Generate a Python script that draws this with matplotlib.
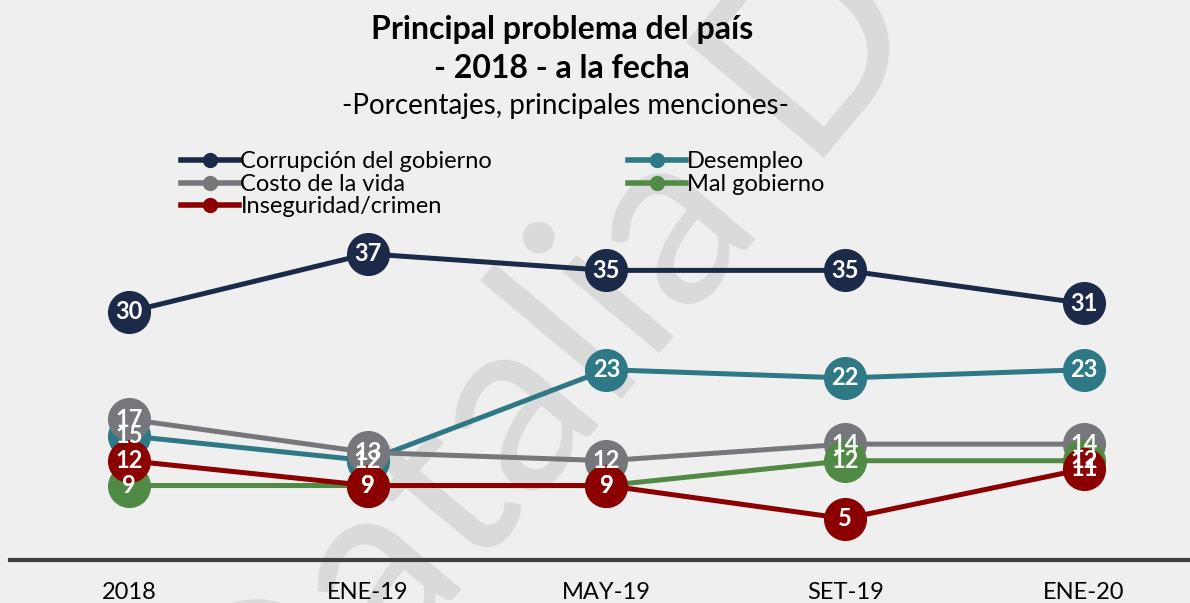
import matplotlib.pyplot as plt
from matplotlib.lines import Line2D

plt.rcParams['font.family'] = ['Lato', 'DejaVu Sans']

# Datos
periodos = ['2018', 'ENE-19', 'MAY-19', 'SET-19', 'ENE-20']
corrupcion = [30, 37, 35, 35, 31]
desempleo = [15, 12, 23, 22, 23]
costo_vida = [17, 13, 12, 14, 14]
mal_gobierno = [9, 9, 9, 12, 12]
inseguridad = [12, 9, 9, 5, 11]

series = [
    ('Corrupción del gobierno', corrupcion, '#1c2a4a'),
    ('Desempleo', desempleo, '#2e7985'),
    ('Costo de la vida', costo_vida, '#76777b'),
    ('Mal gobierno', mal_gobierno, '#518a44'),
    ('Inseguridad/crimen', inseguridad, '#8b0000'),
]

bg = '#efefef'
fig = plt.figure(figsize=(11.9, 6.03), dpi=100, facecolor=bg)

# marca de agua (detras de todo)
wm = dict(fontsize=180, color='#dadada', rotation=50, rotation_mode='anchor',
          va='baseline', zorder=-5)
fig.text(759 / 1190, 1 - 209 / 603, 'Datalia', ha='right', **wm)
fig.text(801 / 1190, 1 - 158 / 603, 'D', ha='left', **wm)

ax = fig.add_axes([10 / 1190, 1 - 560 / 603, 1 - 10 / 1190, (560 - 229) / 603])
ax.set_facecolor('none')
x = list(range(len(periodos)))

handles = {}
for i, (nombre, vals, color) in enumerate(series):
    ax.plot(x, vals, color=color, lw=3.6, marker='o', ms=30, clip_on=False, zorder=2 + i)
    handles[nombre] = Line2D([], [], color=color, lw=4, marker='o', ms=10)
for i, (nombre, vals, color) in enumerate(series):
    for xi, v in zip(x, vals):
        ax.text(xi, v, str(v), color='white', fontsize=17, fontweight='bold',
                ha='center', va='center', zorder=20)

ax.set_xlim(-0.498, 4.444)
ax.set_ylim(0, 40)
ax.set_xticks(x)
ax.set_xticklabels(periodos, fontsize=17)
ax.tick_params(axis='x', length=0, pad=16)
ax.set_yticks([])
for s in ['top', 'right', 'left']:
    ax.spines[s].set_visible(False)
ax.spines['bottom'].set_color('#404040')
ax.spines['bottom'].set_linewidth(3)

orden = ['Corrupción del gobierno', 'Costo de la vida', 'Inseguridad/crimen',
         'Desempleo', 'Mal gobierno']
fig.legend([handles[n] for n in orden], orden, ncol=2, loc='upper left',
           bbox_to_anchor=(172 / 1190, 1 - 142 / 603), frameon=False, fontsize=17,
           handlelength=2.45, handletextpad=0.05, labelspacing=0.06, columnspacing=5.75,
           borderaxespad=0)

fig.text(0.472, 1 - 30 / 603, 'Principal problema del país', fontsize=23, fontweight='bold',
         ha='center', va='center')
fig.text(0.472, 1 - 68 / 603, '- 2018 - a la fecha', fontsize=23, fontweight='bold',
         ha='center', va='center')
fig.text(0.475, 1 - 106 / 603, '-Porcentajes, principales menciones-', fontsize=20,
         ha='center', va='center')

fig.savefig('out.png', dpi=100, facecolor=bg)
